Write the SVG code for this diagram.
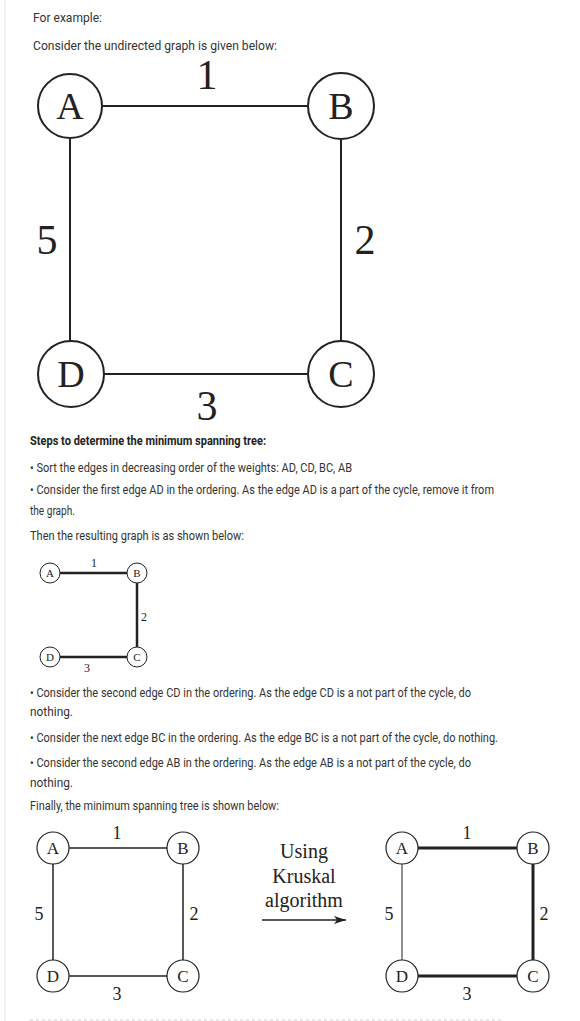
<svg xmlns="http://www.w3.org/2000/svg" width="580" height="1021" viewBox="0 0 580 1021">
<style>
.t{font-family:Roboto,"Liberation Sans",sans-serif;font-size:12px;fill:#333}
.b{font-weight:bold;fill:#222}
.s{font-family:"Liberation Serif","Times New Roman",serif;fill:#222;text-anchor:middle}
.n{fill:#fff;stroke:#222}
.e{stroke:#222;fill:none}
</style>
<defs>
<marker id="ah" viewBox="0 0 12 8" refX="12" refY="4" markerWidth="12" markerHeight="8" markerUnits="userSpaceOnUse" orient="auto"><path d="M0,0 L12,4 L0,8 L3,4 Z" fill="#222"/></marker>
</defs>
<rect width="580" height="1021" fill="#fff"/>
<line x1="5" y1="0" x2="5" y2="1021" stroke="#e4e4e4" stroke-width="1"/>
<line x1="30" y1="1020" x2="503" y2="1020" stroke="#ccc" stroke-width="1" stroke-dasharray="3,3"/>

<text class="t" x="33" y="22" textLength="69" lengthAdjust="spacingAndGlyphs">For example:</text>
<text class="t" x="33" y="50" textLength="244" lengthAdjust="spacingAndGlyphs">Consider the undirected graph is given below:</text>

<!-- big graph -->
<g id="g1-edges">
<line class="e" x1="103" y1="106" x2="308" y2="106" stroke-width="2"/>
<line class="e" x1="70" y1="139" x2="70" y2="341" stroke-width="2"/>
<line class="e" x1="341" y1="139" x2="341" y2="341" stroke-width="2"/>
<line class="e" x1="104" y1="374" x2="308" y2="374" stroke-width="2"/>
</g>
<g id="g1-labels">
<text class="s" x="207" y="89" font-size="42">1</text>
<text class="s" x="47" y="254" font-size="42">5</text>
<text class="s" x="365" y="254" font-size="42">2</text>
<text class="s" x="207" y="420" font-size="42">3</text>
</g>
<g id="g1-A"><circle class="n" cx="70" cy="106" r="32" stroke-width="2"/><text class="s" x="70" y="119" font-size="38">A</text></g>
<g id="g1-B"><circle class="n" cx="341" cy="106" r="33" stroke-width="2"/><text class="s" x="341" y="119" font-size="38">B</text></g>
<g id="g1-D"><circle class="n" cx="71" cy="374" r="33" stroke-width="2"/><text class="s" x="71" y="387" font-size="38">D</text></g>
<g id="g1-C"><circle class="n" cx="341" cy="374" r="33" stroke-width="2"/><text class="s" x="341" y="387" font-size="38">C</text></g>

<text class="t b" x="30" y="445" textLength="236" lengthAdjust="spacingAndGlyphs">Steps to determine the minimum spanning tree:</text>
<text class="t" x="30" y="472" textLength="322" lengthAdjust="spacingAndGlyphs">• Sort the edges in decreasing order of the weights: AD, CD, BC, AB</text>
<text class="t" x="30" y="494" textLength="464" lengthAdjust="spacingAndGlyphs">• Consider the first edge AD in the ordering. As the edge AD is a part of the cycle, remove it from</text>
<text class="t" x="30" y="515" textLength="45" lengthAdjust="spacingAndGlyphs">the graph.</text>
<text class="t" x="30" y="540" textLength="214" lengthAdjust="spacingAndGlyphs">Then the resulting graph is as shown below:</text>

<!-- small graph -->
<g id="g2-edges">
<line class="e" x1="60" y1="573" x2="127" y2="573" stroke-width="2.5"/>
<line class="e" x1="137" y1="583" x2="137" y2="647" stroke-width="2.5"/>
<line class="e" x1="60" y1="657" x2="127" y2="657" stroke-width="2.5"/>
</g>
<g id="g2-labels">
<text class="s" x="94" y="567" font-size="12">1</text>
<text class="s" x="144" y="621" font-size="12">2</text>
<text class="s" x="87" y="672" font-size="12">3</text>
</g>
<g id="g2-A"><circle class="n" cx="50" cy="573" r="10" stroke-width="1"/><text class="s" x="50" y="577" font-size="11">A</text></g>
<g id="g2-B"><circle class="n" cx="137" cy="573" r="10" stroke-width="1"/><text class="s" x="137" y="577" font-size="11">B</text></g>
<g id="g2-C"><circle class="n" cx="137" cy="657" r="10" stroke-width="1"/><text class="s" x="137" y="661" font-size="11">C</text></g>
<g id="g2-D"><circle class="n" cx="50" cy="657" r="10" stroke-width="1"/><text class="s" x="50" y="661" font-size="11">D</text></g>

<text class="t" x="30" y="697" textLength="441" lengthAdjust="spacingAndGlyphs">• Consider the second edge CD in the ordering. As the edge CD is a not part of the cycle, do</text>
<text class="t" x="30" y="716" textLength="43" lengthAdjust="spacingAndGlyphs">nothing.</text>
<text class="t" x="30" y="742" textLength="468" lengthAdjust="spacingAndGlyphs">• Consider the next edge BC in the ordering. As the edge BC is a not part of the cycle, do nothing.</text>
<text class="t" x="30" y="767" textLength="441" lengthAdjust="spacingAndGlyphs">• Consider the second edge AB in the ordering. As the edge AB is a not part of the cycle, do</text>
<text class="t" x="30" y="787" textLength="43" lengthAdjust="spacingAndGlyphs">nothing.</text>
<text class="t" x="30" y="810" textLength="249" lengthAdjust="spacingAndGlyphs">Finally, the minimum spanning tree is shown below:</text>

<!-- bottom left graph -->
<g id="g3-edges">
<line class="e" x1="69" y1="848" x2="167" y2="848" stroke-width="1.5"/>
<line class="e" x1="53" y1="864" x2="53" y2="960" stroke-width="1.5"/>
<line class="e" x1="183" y1="864" x2="183" y2="960" stroke-width="1.5"/>
<line class="e" x1="69" y1="976" x2="167" y2="976" stroke-width="1.5"/>
</g>
<g id="g3-labels">
<text class="s" x="117" y="839" font-size="18">1</text>
<text class="s" x="39" y="920" font-size="18">5</text>
<text class="s" x="194" y="920" font-size="18">2</text>
<text class="s" x="117" y="1000" font-size="18">3</text>
</g>
<g id="g3-A"><circle class="n" cx="53" cy="848" r="16" stroke-width="1.2"/><text class="s" x="53" y="854" font-size="17">A</text></g>
<g id="g3-B"><circle class="n" cx="183" cy="848" r="16" stroke-width="1.2"/><text class="s" x="183" y="854" font-size="17">B</text></g>
<g id="g3-D"><circle class="n" cx="53" cy="976" r="16" stroke-width="1.2"/><text class="s" x="53" y="982" font-size="17">D</text></g>
<g id="g3-C"><circle class="n" cx="183" cy="976" r="16" stroke-width="1.2"/><text class="s" x="183" y="982" font-size="17">C</text></g>

<!-- arrow -->
<g id="arrow-label">
<text class="s" x="304" y="858" font-size="20">Using</text>
<text class="s" x="304" y="883" font-size="20">Kruskal</text>
<text class="s" x="304" y="907" font-size="20">algorithm</text>
</g>
<g id="connectors">
<line x1="262" y1="920" x2="346" y2="920" stroke="#222" stroke-width="1.5" marker-end="url(#ah)"/>
</g>

<!-- bottom right graph -->
<g id="g4-edges">
<line class="e" x1="418" y1="848" x2="517" y2="848" stroke-width="3"/>
<line class="e" x1="402" y1="864" x2="402" y2="960" stroke-width="1"/>
<line class="e" x1="533" y1="864" x2="533" y2="960" stroke-width="3"/>
<line class="e" x1="418" y1="976" x2="517" y2="976" stroke-width="3"/>
</g>
<g id="g4-labels">
<text class="s" x="467" y="839" font-size="18">1</text>
<text class="s" x="389" y="920" font-size="18">5</text>
<text class="s" x="544" y="920" font-size="18">2</text>
<text class="s" x="467" y="1000" font-size="18">3</text>
</g>
<g id="g4-A"><circle class="n" cx="402" cy="848" r="16" stroke-width="1.2"/><text class="s" x="402" y="854" font-size="17">A</text></g>
<g id="g4-B"><circle class="n" cx="533" cy="848" r="16" stroke-width="1.2"/><text class="s" x="533" y="854" font-size="17">B</text></g>
<g id="g4-D"><circle class="n" cx="402" cy="976" r="16" stroke-width="1.2"/><text class="s" x="402" y="982" font-size="17">D</text></g>
<g id="g4-C"><circle class="n" cx="533" cy="976" r="16" stroke-width="1.2"/><text class="s" x="533" y="982" font-size="17">C</text></g>
</svg>
